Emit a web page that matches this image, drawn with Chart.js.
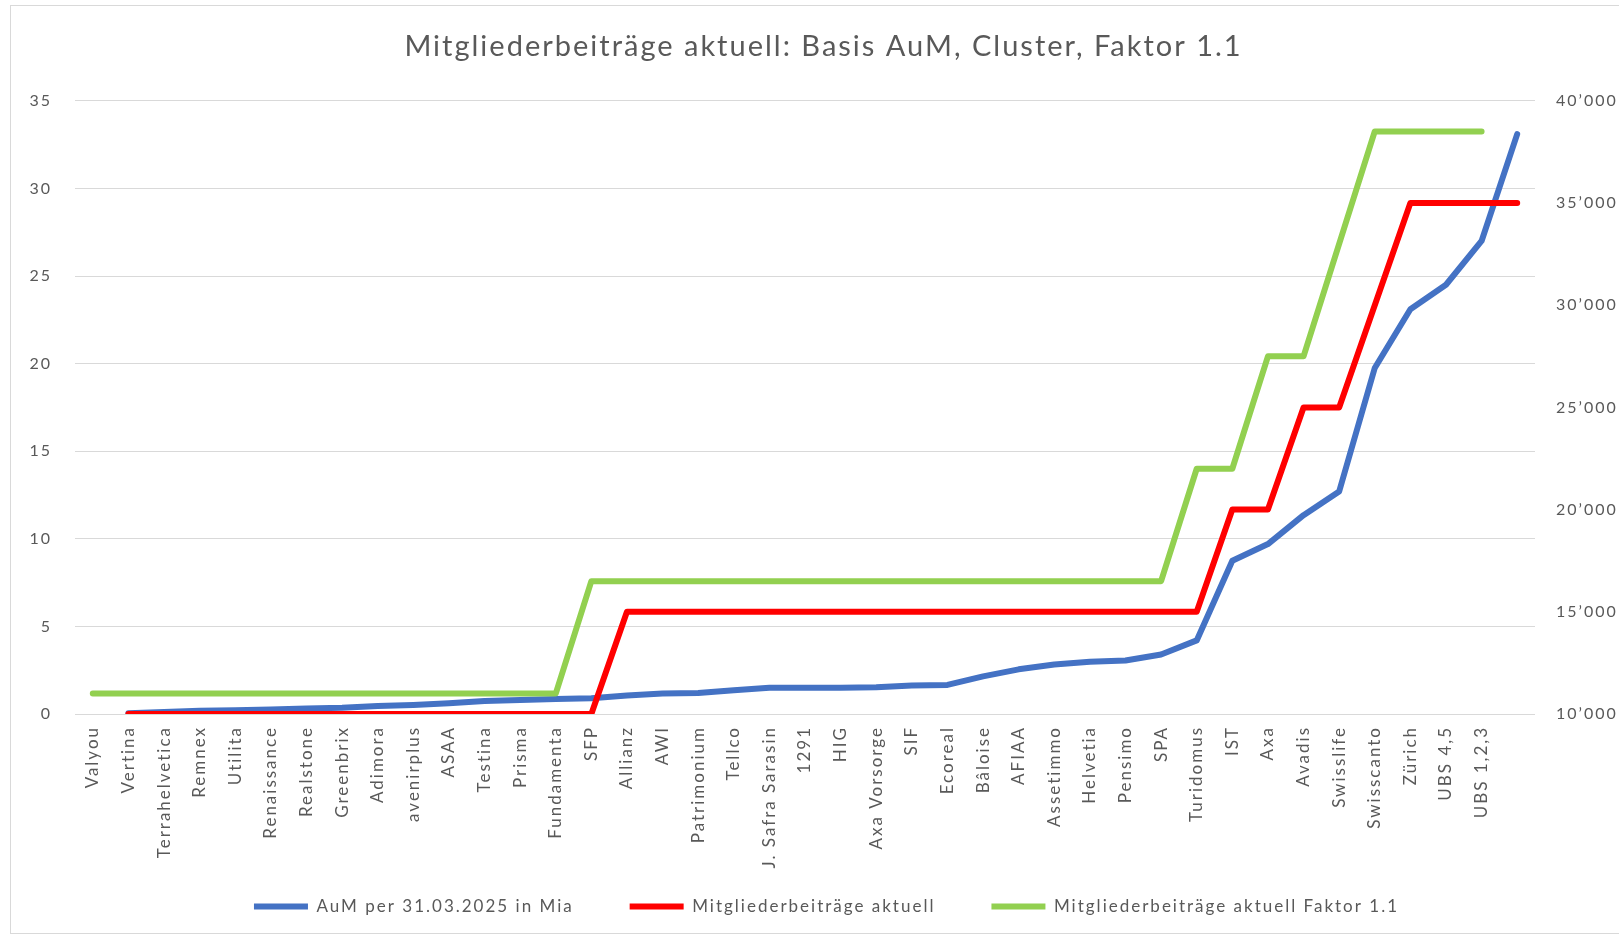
<!DOCTYPE html>
<html><head><meta charset="utf-8">
<script src="https://cdn.jsdelivr.net/npm/chart.js@4.4.0/dist/chart.umd.min.js"></script>
<style>
html,body{margin:0;padding:0;background:#fff;overflow:hidden}
#wrap{position:relative;width:1619px;height:939px}
#frame{position:absolute;left:10px;top:5px;width:1650px;height:929px;border:1px solid #d9d9d9;box-sizing:border-box}
canvas{position:absolute;left:0;top:0}
</style></head><body>
<div id="wrap"><div id="frame"></div><canvas id="c" width="1619" height="939"></canvas></div>
<script>
const categories = ['Valyou','Vertina','Terrahelvetica','Remnex','Utilita','Renaissance','Realstone','Greenbrix','Adimora','avenirplus','ASAA','Testina','Prisma','Fundamenta','SFP','Allianz','AWI','Patrimonium','Tellco','J. Safra Sarasin','1291','HIG','Axa Vorsorge','SIF','Ecoreal','Bâloise','AFIAA','Assetimmo','Helvetia','Pensimo','SPA','Turidomus','IST','Axa','Avadis','Swisslife','Swisscanto','Zürich','UBS 4,5','UBS 1,2,3',''];
const aum = [null,0.05,0.12,0.18,0.22,0.26,0.32,0.36,0.45,0.52,0.62,0.74,0.8,0.86,0.9,1.05,1.17,1.2,1.35,1.5,1.5,1.5,1.52,1.62,1.66,2.15,2.55,2.82,2.98,3.05,3.4,4.2,8.75,9.7,11.35,12.7,19.75,23.1,24.5,27.0,33.1];
const beitraege = [null,10000,10000,10000,10000,10000,10000,10000,10000,10000,10000,10000,10000,10000,10000,15000,15000,15000,15000,15000,15000,15000,15000,15000,15000,15000,15000,15000,15000,15000,15000,15000,20000,20000,25000,25000,30000,35000,35000,35000,35000];
const beitraegeFaktor = [11000,11000,11000,11000,11000,11000,11000,11000,11000,11000,11000,11000,11000,11000,16500,16500,16500,16500,16500,16500,16500,16500,16500,16500,16500,16500,16500,16500,16500,16500,16500,22000,22000,27500,27500,33000,38500,38500,38500,38500,null];
const seriesNames = ['AuM per 31.03.2025 in Mia','Mitgliederbeiträge aktuell','Mitgliederbeiträge aktuell Faktor 1.1'];
const titleText = 'Mitgliederbeiträge aktuell: Basis AuM, Cluster, Faktor 1.1';
const leftMin = 0, leftMax = 35, leftStep = 5;
const rightMin = 10000, rightMax = 40000, rightStep = 5000;

const textColor = '#595959';
const fam = 'Lato, "Open Sans", sans-serif';

function fmtThousands(v){
  return String(v).replace(/\B(?=(\d{3})+(?!\d))/g, '\u2019');
}

const spacingPlugin = {
  id: 'spacing',
  beforeUpdate(chart){ chart.ctx.letterSpacing = '2px'; },
  beforeLayout(chart){ chart.ctx.letterSpacing = '2px'; },
  afterLayout(chart){
    if (chart.legend) { chart.legend.left += 17; chart.legend.right += 17; }
    if (chart.titleBlock) { chart.titleBlock.left += 14; chart.titleBlock.right += 14; }
    if (chart.scales.x) { chart.scales.x._computeLabelArea = () => undefined; }
  },
  beforeDraw(chart){ chart.ctx.letterSpacing = '2px'; }
};

const lineCommon = {borderWidth: 6, pointRadius: 0, pointHoverRadius: 0, tension: 0, fill: false,
  borderCapStyle: 'round', borderJoinStyle: 'round'};

new Chart(document.getElementById('c'), {
  type: 'line',
  plugins: [spacingPlugin],
  data: {
    labels: categories,
    datasets: [
      Object.assign({label: seriesNames[0], data: aum, borderColor: '#4472C4', backgroundColor: '#4472C4', yAxisID: 'y', order: 3}, lineCommon),
      Object.assign({label: seriesNames[1], data: beitraege, borderColor: '#FF0000', backgroundColor: '#FF0000', yAxisID: 'y1', order: 2}, lineCommon),
      Object.assign({label: seriesNames[2], data: beitraegeFaktor, borderColor: '#92D050', backgroundColor: '#92D050', yAxisID: 'y1', order: 1}, lineCommon)
    ]
  },
  options: {
    responsive: false,
    animation: false,
    devicePixelRatio: 1,
    layout: {padding: {left: 0, right: 0, top: 0, bottom: 14}},
    plugins: {
      tooltip: {enabled: false},
      title: {
        display: true, text: titleText, color: textColor,
        font: {family: fam, size: 29, weight: 'normal'},
        padding: {top: 29, bottom: 37}
      },
      legend: {
        position: 'bottom',
        labels: {
          color: textColor,
          font: {family: fam, size: 17},
          usePointStyle: true,
          pointStyle: 'line',
          pointStyleWidth: 54,
          boxHeight: 6,
          padding: 56,
          sort: (a, b) => a.datasetIndex - b.datasetIndex
        }
      }
    },
    scales: {
      x: {
        offset: true,
        grid: {display: false, drawTicks: false},
        border: {display: false},
        ticks: {color: textColor, font: {family: fam, size: 17}, minRotation: 90, maxRotation: 90, autoSkip: false, padding: 12},
        afterFit: s => { s.height = 128; }
      },
      y: {
        position: 'left', min: leftMin, max: leftMax,
        ticks: {stepSize: leftStep, color: textColor, font: {family: fam, size: 16}, padding: 23},
        grid: {color: '#d9d9d9', lineWidth: 1, drawTicks: false},
        border: {display: false},
        afterFit: s => { s.width = 75; }
      },
      y1: {
        position: 'right', min: rightMin, max: rightMax,
        ticks: {stepSize: rightStep, color: textColor, font: {family: fam, size: 16}, padding: 21,
          callback: v => fmtThousands(v)},
        grid: {display: false, drawTicks: false},
        border: {display: false},
        afterFit: s => { s.width = 84; }
      }
    }
  }
});
</script>
</body></html>
